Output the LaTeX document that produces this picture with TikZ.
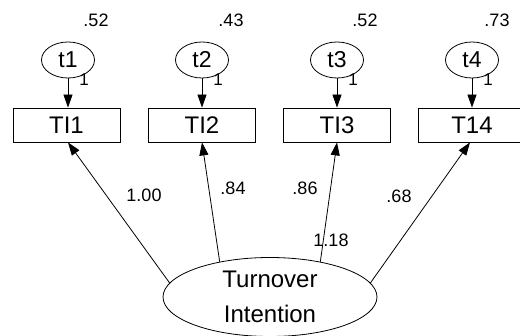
\documentclass[tikz,border=0pt]{standalone}
\usepackage{fontspec}
\setmainfont{Liberation Sans}
\usetikzlibrary{arrows.meta,shapes.geometric}
\begin{document}
\begin{tikzpicture}[x=1pt,y=-1pt,
  line width=0.8pt,
  err/.style={draw, ellipse, minimum width=53pt, minimum height=36pt, inner sep=0pt,
    font=\fontsize{23}{25}\selectfont},
  obs/.style={draw, rectangle, minimum width=107pt, minimum height=34pt, inner sep=0pt,
    font=\fontsize{24}{26}\selectfont},
  lat/.style={draw, ellipse, minimum width=214pt, minimum height=79pt, inner sep=0pt},
  num/.style={inner sep=0pt, font=\fontsize{18}{20}\selectfont},
  one/.style={inner sep=0pt, font=\fontsize{17}{19}\selectfont},
  arr/.style={-{Triangle[length=13pt,width=9pt]}}]
\useasboundingbox (0,0) rectangle (520,336);

% error terms and their variances
\node[err] (t1) at (68,60)  {t1};
\node[err] (t2) at (202,60) {t2};
\node[err] (t3) at (337,60) {t3};
\node[err] (t4) at (472,60) {t4};
\node[num] (v1) at (96,20)  {.52};
\node[num] (v2) at (231,20) {.43};
\node[num] (v3) at (365,20) {.52};
\node[num] (v4) at (497,20) {.73};

% observed indicators
\node[obs] (TI1) at (66.5,125) {TI1};
\node[obs] (TI2) at (202,125)  {TI2};
\node[obs] (TI3) at (337,125)  {TI3};
\node[obs] (T14) at (472,125)  {T14};

% error paths fixed to 1
\draw[arr] (t1) -- (TI1.north -| t1);
\draw[arr] (t2) -- (TI2.north -| t2);
\draw[arr] (t3) -- (TI3.north -| t3);
\draw[arr] (t4) -- (T14.north -| t4);
\node[one] (o1) at (84,80)  {1};
\node[one] (o2) at (218,80) {1};
\node[one] (o3) at (353,80) {1};
\node[one] (o4) at (488,80) {1};

% latent factor
\node[lat] (TI) at (270,297) {};
\node[align=center, inner sep=0pt, font=\fontsize{24}{35}\selectfont] (TIlab) at (270,297) {Turnover\\Intention};

% loadings
\draw[arr] (TI.172) -- ([xshift=1.5pt]TI1.south);
\draw[arr] (TI.145) -- (TI2.south);
\draw[arr] (TI.35)  -- (TI3.south);
\draw[arr] (TI.8)   -- ([xshift=-2pt]T14.south);
\node[num] (l1) at (144,195) {1.00};
\node[num] (l2) at (233,188) {.84};
\node[num] (l3) at (305,188) {.86};
\node[num] (l4) at (399,196) {.68};
\node[num] (l5) at (331,240) {1.18};
\end{tikzpicture}
\end{document}
